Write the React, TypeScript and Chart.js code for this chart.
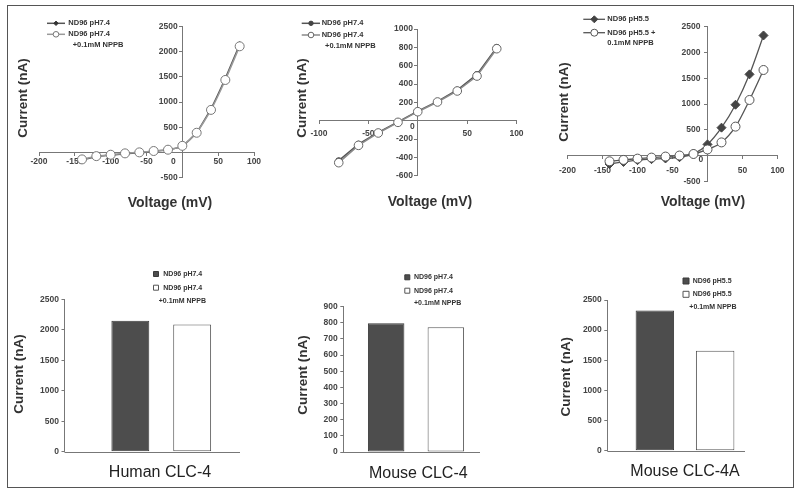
import React, { useEffect, useRef } from 'react';
import { Chart, registerables } from 'chart.js';

Chart.register(...registerables);

const FONT = '"Liberation Sans", Arial, Helvetica, sans-serif';
const AXIS = '#777';
const TEXT = '#333';

// ---------- data ----------
const voltageLong = [-140, -120, -100, -80, -60, -40, -20, 0, 20, 40, 60, 80];
const voltageShort = [-80, -60, -40, -20, 0, 20, 40, 60, 80];

const humanCtrl = [-150, -85, -55, -28, -10, 20, 50, 125, 395, 870, 1475, 2145];
const humanNppb = [-140, -75, -47, -20, 0, 27, 53, 130, 390, 845, 1440, 2110];

const mouseCtrl = [-436, -255, -127, -12, 104, 210, 335, 505, 800];
const mouseNppb = [-458, -269, -134, -18, 98, 204, 324, 487, 785];

const mouseACtrl = [-164, -125, -90, -70, -57, -33, 33, 216, 541, 986, 1575, 2330];
const mouseANppb = [-112, -85, -60, -40, -20, 0, 30, 118, 255, 561, 1078, 1660];

const barHuman = [2150, 2085];
const barMouse = [797, 772];
const barMouseA = [2325, 1658];

const labelCtrl74 = 'ND96 pH7.4';
const labelNppb74 = 'ND96 pH7.4\n+0.1mM NPPB';
const labelCtrl55 = 'ND96 pH5.5';
const labelNppb55IV = 'ND96 pH5.5 +\n0.1mM NPPB';
const labelNppb55Bar = 'ND96 pH5.5\n+0.1mM NPPB';

const groupNames = ['Human CLC-4', 'Mouse CLC-4', 'Mouse CLC-4A'];
const yTitle = 'Current (nA)';
const xTitleIV = 'Voltage (mV)';

// ---------- decoration plugin ----------
type DecorCfg = {
  yTitle: { x: number; y: number };
  xTitle: { text: string; x: number; y: number; font: string; color: string };
  legend: {
    kind: 'line' | 'bar';
    x0: number; x1: number; mx: number; tx: number;
    ys: number[]; gap: number; indent: number[]; font: string; sizes: number[];
  };
  zero?: { dx: number; dy: number };
  baselineTrim?: number;
};

function drawMarker(ctx: CanvasRenderingContext2D, style: string, x: number, y: number, r: number, fill: string, stroke: string, bw: number) {
  ctx.beginPath();
  if (style === 'rectRot') {
    ctx.moveTo(x, y - r); ctx.lineTo(x + r, y); ctx.lineTo(x, y + r); ctx.lineTo(x - r, y); ctx.closePath();
  } else if (style === 'rect') {
    ctx.rect(x - r, y - r, 2 * r, 2 * r);
  } else {
    ctx.arc(x, y, r, 0, Math.PI * 2);
  }
  ctx.fillStyle = fill; ctx.fill();
  ctx.lineWidth = bw; ctx.strokeStyle = stroke; ctx.stroke();
}

function decor(cfg: DecorCfg) {
  return {
    id: 'decor',
    afterDraw(chart: any) {
      const ctx: CanvasRenderingContext2D = chart.ctx;
      ctx.save();
      ctx.fillStyle = TEXT;
      ctx.textAlign = 'center';
      ctx.textBaseline = 'middle';
      ctx.font = `bold 13.5px ${FONT}`;
      ctx.save();
      ctx.translate(cfg.yTitle.x, cfg.yTitle.y);
      ctx.rotate(-Math.PI / 2);
      ctx.fillText(yTitle, 0, 0);
      ctx.restore();
      ctx.font = cfg.xTitle.font;
      ctx.fillStyle = cfg.xTitle.color;
      ctx.fillText(cfg.xTitle.text, cfg.xTitle.x, cfg.xTitle.y);

      if (cfg.zero) {
        const px = chart.scales.x.getPixelForValue(0);
        const py = chart.scales.y.getPixelForValue(0);
        ctx.font = `bold 8.5px ${FONT}`;
        ctx.fillStyle = '#444';
        ctx.fillText('0', px + cfg.zero.dx, py + cfg.zero.dy);
      }
      if (cfg.baselineTrim !== undefined) {
        const py = Math.round(chart.scales.y.getPixelForValue(0)) + 0.5;
        ctx.strokeStyle = AXIS;
        ctx.lineWidth = 1;
        ctx.beginPath();
        ctx.moveTo(chart.chartArea.left, py);
        ctx.lineTo(chart.chartArea.right - cfg.baselineTrim, py);
        ctx.stroke();
      }

      const L = cfg.legend;
      ctx.textAlign = 'left';
      chart.data.datasets.forEach((ds: any, i: number) => {
        const y = L.ys[i];
        if (L.kind === 'line') {
          ctx.strokeStyle = ds.borderColor;
          ctx.lineWidth = ds.borderWidth;
          ctx.beginPath();
          ctx.moveTo(L.x0, y); ctx.lineTo(L.x1, y);
          ctx.stroke();
          drawMarker(ctx, ds.pointStyle, L.mx, y, L.sizes[i], ds.pointBackgroundColor, ds.pointBorderColor, 1);
        } else {
          drawMarker(ctx, 'rect', L.mx, y, L.sizes[i], ds.backgroundColor, ds.borderColor, 1);
        }
        ctx.font = L.font;
        ctx.fillStyle = TEXT;
        ctx.textBaseline = 'middle';
        const lines = String(ds.label).split('\n');
        lines.forEach((t, k) => {
          ctx.fillText(t, L.tx + (k > 0 ? L.indent[i] : 0), y + k * L.gap);
        });
      });
      ctx.restore();
    },
  };
}

// ---------- builders ----------
type Series = {
  label: string; xs: number[]; ys: number[];
  line: string; lineWidth: number; style: string; radius: number;
  fill: string; stroke: string; order: number;
};

function lineConfig(o: {
  series: Series[]; xMin: number; xMax: number; xStep: number;
  yMin: number; yMax: number; yStep: number;
  padding: { left: number; right: number; top: number; bottom: number };
  tension: number; xPad: number; yGap: string; decor: DecorCfg;
}): any {
  const tickFont = { family: FONT, size: 8.5, weight: 'bold' as const };
  return {
    type: 'line',
    data: {
      datasets: o.series.map((s) => ({
        label: s.label,
        data: s.xs.map((x, i) => ({ x, y: s.ys[i] })),
        borderColor: s.line,
        borderWidth: s.lineWidth,
        pointStyle: s.style,
        pointRadius: s.radius,
        pointBackgroundColor: s.fill,
        pointBorderColor: s.stroke,
        pointBorderWidth: 1,
        tension: o.tension,
        fill: false,
        order: s.order,
      })),
    },
    options: {
      responsive: false,
      animation: false,
      devicePixelRatio: 1,
      events: [],
      layout: { padding: o.padding },
      plugins: { legend: { display: false }, tooltip: { enabled: false } },
      scales: {
        x: {
          type: 'linear', min: o.xMin, max: o.xMax,
          position: { y: 0 },
          ticks: {
            stepSize: o.xStep, autoSkip: false, maxRotation: 0, font: tickFont, color: '#444', padding: o.xPad,
            callback: (v: any) => (Number(v) === 0 ? '' : String(v)),
          },
          grid: { drawOnChartArea: false, drawTicks: true, tickLength: 3, color: AXIS },
          border: { color: AXIS, width: 1 },
        },
        y: {
          type: 'linear', min: o.yMin, max: o.yMax,
          position: { x: 0 },
          ticks: {
            stepSize: o.yStep, autoSkip: false, font: tickFont, color: '#444',
            callback: (v: any) => (Number(v) === 0 ? '' : String(v) + o.yGap),
          },
          grid: { drawOnChartArea: false, drawTicks: true, tickLength: 3, color: AXIS },
          border: { color: AXIS, width: 1 },
        },
      },
    },
    plugins: [decor(o.decor)],
  };
}

function barConfig(o: {
  name: string; labels: string[]; values: number[]; yMax: number; yStep: number;
  padding: { left: number; right: number; top: number; bottom: number };
  cp: number; bp: number; decor: DecorCfg;
}): any {
  const fills = ['#4d4d4d', '#ffffff'];
  const borders = ['#3a3a3a', '#555555'];
  return {
    type: 'bar',
    data: {
      labels: [o.name],
      datasets: o.values.map((v, i) => ({
        label: o.labels[i],
        data: [v],
        backgroundColor: fills[i],
        borderColor: borders[i],
        borderWidth: 1,
        borderSkipped: false,
        categoryPercentage: o.cp,
        barPercentage: o.bp,
      })),
    },
    options: {
      responsive: false,
      animation: false,
      devicePixelRatio: 1,
      events: [],
      layout: { padding: o.padding },
      plugins: { legend: { display: false }, tooltip: { enabled: false } },
      scales: {
        x: {
          type: 'category',
          ticks: { display: false },
          grid: { display: false },
          border: { display: false },
          afterFit: (s: any) => { s.height = 0; },
        },
        y: {
          min: 0, max: o.yMax,
          ticks: {
            stepSize: o.yStep, autoSkip: false, font: { family: FONT, size: 8.5, weight: 'bold' }, color: '#444', padding: 2.5,
            callback: (v: any) => String(v),
          },
          grid: { drawOnChartArea: false, drawTicks: true, tickLength: 3, color: AXIS },
          border: { color: AXIS, width: 1 },
          afterFit: (s: any) => { s.width = 40; },
        },
      },
    },
    plugins: [decor(o.decor)],
  };
}

const legendFont = `bold 7.5px ${FONT}`;
const barLegendFont = `bold 7px ${FONT}`;
const ivTitleFont = `bold 14px ${FONT}`;
const barTitleFont = `16px ${FONT}`;
const NB = '\u00A0';

const panels = [
  {
    left: 8, top: 6, width: 262, height: 215,
    build: () => lineConfig({
      series: [
        { label: labelCtrl74, xs: voltageLong, ys: humanCtrl, line: '#555', lineWidth: 1.5, style: 'rectRot', radius: 3, fill: '#333', stroke: '#333', order: 2 },
        { label: labelNppb74, xs: voltageLong, ys: humanNppb, line: '#9a9a9a', lineWidth: 1.5, style: 'circle', radius: 4.5, fill: '#fff', stroke: '#777', order: 1 },
      ],
      xMin: -200, xMax: 100, xStep: 50, yMin: -500, yMax: 2500, yStep: 500,
      padding: { left: 31, right: 16, top: 20.7, bottom: 43.5 },
      tension: 0.15, xPad: 1.5, yGap: NB + NB,
      decor: {
        yTitle: { x: 15, y: 92 },
        xTitle: { text: xTitleIV, x: 162, y: 197, font: ivTitleFont, color: TEXT },
        legend: { kind: 'line', x0: 39, x1: 57, mx: 48, tx: 60.3, ys: [17.3, 28.3], gap: 10.7, indent: [0, 4.4], font: legendFont, sizes: [2.2, 2.8] },
        zero: { dx: -9, dy: 9.2 },
      },
    }),
  },
  {
    left: 270, top: 6, width: 262, height: 215,
    build: () => lineConfig({
      series: [
        { label: labelCtrl74, xs: voltageShort, ys: mouseCtrl, line: '#555', lineWidth: 1.5, style: 'circle', radius: 3, fill: '#444', stroke: '#444', order: 2 },
        { label: labelNppb74, xs: voltageShort, ys: mouseNppb, line: '#8a8a8a', lineWidth: 1.5, style: 'circle', radius: 4.3, fill: '#fff', stroke: '#666', order: 1 },
      ],
      xMin: -100, xMax: 100, xStep: 50, yMin: -600, yMax: 1000, yStep: 200,
      padding: { left: 49, right: 15.5, top: 23, bottom: 45.3 },
      tension: 0, xPad: 5, yGap: NB + NB,
      decor: {
        yTitle: { x: 32.5, y: 92 },
        xTitle: { text: xTitleIV, x: 160, y: 196, font: ivTitleFont, color: TEXT },
        legend: { kind: 'line', x0: 31.7, x1: 50, mx: 41, tx: 51.7, ys: [17.3, 29], gap: 11, indent: [0, 3.3], font: legendFont, sizes: [2.2, 2.8] },
        zero: { dx: -5.4, dy: 6 },
      },
    }),
  },
  {
    left: 532, top: 6, width: 262, height: 215,
    build: () => lineConfig({
      series: [
        { label: labelCtrl55, xs: voltageLong, ys: mouseACtrl, line: '#555', lineWidth: 1.3, style: 'rectRot', radius: 4.5, fill: '#444', stroke: '#444', order: 2 },
        { label: labelNppb55IV, xs: voltageLong, ys: mouseANppb, line: '#555', lineWidth: 1.3, style: 'circle', radius: 4.5, fill: '#fff', stroke: '#555', order: 1 },
      ],
      xMin: -200, xMax: 100, xStep: 50, yMin: -500, yMax: 2500, yStep: 500,
      padding: { left: 35.5, right: 16.5, top: 20.7, bottom: 39.7 },
      tension: 0.3, xPad: 7, yGap: NB + NB + NB,
      decor: {
        yTitle: { x: 32, y: 96 },
        xTitle: { text: xTitleIV, x: 171, y: 196, font: ivTitleFont, color: TEXT },
        legend: { kind: 'line', x0: 51.3, x1: 73, mx: 62.3, tx: 75.3, ys: [13.3, 26.7], gap: 10.6, indent: [0, 0], font: legendFont, sizes: [3.5, 3.5] },
        zero: { dx: -6.6, dy: 4.5 },
      },
    }),
  },
  {
    left: 8, top: 250, width: 262, height: 237,
    build: () => barConfig({
      name: groupNames[0], labels: [labelCtrl74, labelNppb74], values: barHuman, yMax: 2500, yStep: 500,
      padding: { left: 16.5, right: 12, top: 49.3, bottom: 35.3 }, cp: 0.639, bp: 0.613,
      decor: {
        yTitle: { x: 11, y: 124 },
        xTitle: { text: groupNames[0], x: 152, y: 222.7, font: barTitleFont, color: '#222' },
        legend: { kind: 'bar', x0: 0, x1: 0, mx: 148, tx: 155.3, ys: [24, 37.7], gap: 13, indent: [0, -4.6], font: barLegendFont, sizes: [2.5, 2.5] },
        baselineTrim: 18,
      },
    }),
  },
  {
    left: 270, top: 250, width: 262, height: 237,
    build: () => barConfig({
      name: groupNames[1], labels: [labelCtrl74, labelNppb74], values: barMouse, yMax: 900, yStep: 100,
      padding: { left: 33.3, right: 43.3, top: 56.7, bottom: 35 }, cp: 0.821, bp: 0.611,
      decor: {
        yTitle: { x: 33.3, y: 125 },
        xTitle: { text: groupNames[1], x: 148.3, y: 224, font: barTitleFont, color: '#222' },
        legend: { kind: 'bar', x0: 0, x1: 0, mx: 137.3, tx: 144, ys: [27.3, 40.7], gap: 12.6, indent: [0, 0], font: barLegendFont, sizes: [2.5, 2.5] },
        baselineTrim: 8.7,
      },
    }),
  },
  {
    left: 532, top: 250, width: 262, height: 237,
    build: () => barConfig({
      name: groupNames[2], labels: [labelCtrl55, labelNppb55Bar], values: barMouseA, yMax: 2500, yStep: 500,
      padding: { left: 35.3, right: 31.3, top: 50, bottom: 36.3 }, cp: 0.776, bp: 0.638,
      decor: {
        yTitle: { x: 34.7, y: 126.7 },
        xTitle: { text: groupNames[2], x: 153, y: 221.7, font: barTitleFont, color: '#222' },
        legend: { kind: 'bar', x0: 0, x1: 0, mx: 154, tx: 160.7, ys: [31, 44.3], gap: 13, indent: [0, -3.4], font: barLegendFont, sizes: [3, 3] },
        baselineTrim: 17.7,
      },
    }),
  },
];

function Panel(p: { left: number; top: number; width: number; height: number; build: () => any }) {
  const ref = useRef<HTMLCanvasElement>(null);
  useEffect(() => {
    const chart = new Chart(ref.current as HTMLCanvasElement, p.build());
    return () => chart.destroy();
  }, []);
  return (
    <canvas
      ref={ref}
      width={p.width}
      height={p.height}
      style={{ position: 'absolute', left: p.left, top: p.top, width: p.width, height: p.height }}
    />
  );
}

export default function App() {
  return (
    <div style={{ position: 'absolute', left: 0, top: 0, width: 800, height: 496, background: '#fff', overflow: 'hidden' }}>
      <div
        style={{
          position: 'absolute', left: 7, top: 5, width: 787, height: 483,
          border: '1.5px solid #555', boxSizing: 'border-box',
        }}
      />
      {panels.map((p, i) => (
        <Panel key={i} {...p} />
      ))}
    </div>
  );
}
